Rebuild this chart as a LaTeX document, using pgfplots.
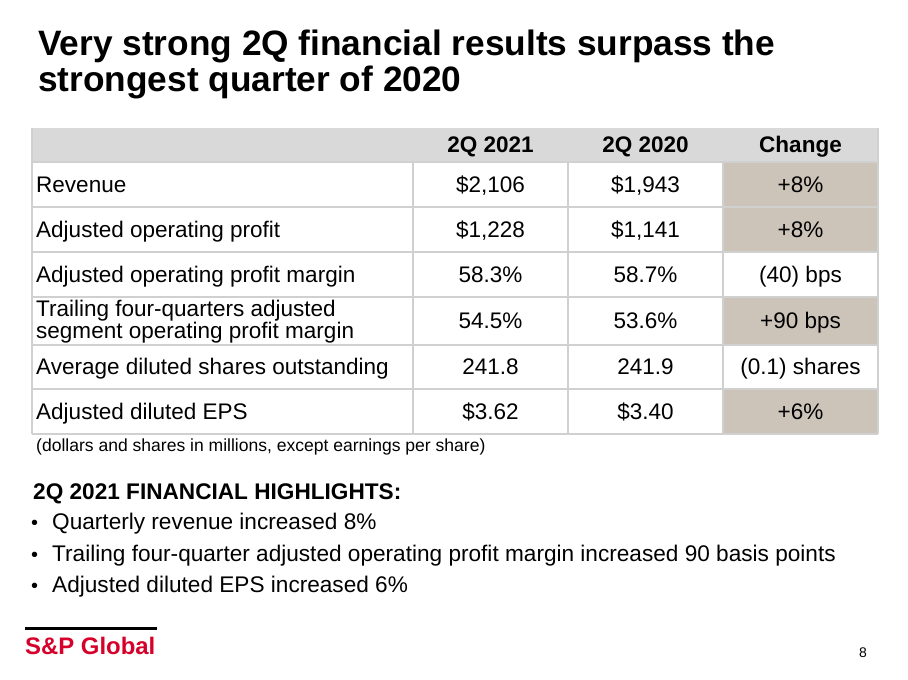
\documentclass[border=0pt]{standalone}
\usepackage{pgfplots}
\pgfplotsset{compat=1.18}
\usepackage{fontspec}
\setmainfont{Liberation Sans}
\definecolor{hdrgray}{RGB}{217,217,217}
\definecolor{beige}{RGB}{205,196,185}
\definecolor{gridgray}{RGB}{208,208,208}
\definecolor{spred}{RGB}{214,0,42}
\newcommand\tb{\fontsize{22.6}{23}\selectfont}
\newcommand\tbb{\fontsize{22.6}{23}\selectfont\bfseries}
\newcommand\hl{\fontsize{22.7}{24}\selectfont}
\begin{document}
\begin{tikzpicture}
\begin{axis}[
  scale only axis, width=908bp, height=680bp,
  xmin=0, xmax=908, ymin=0, ymax=680, y dir=reverse,
  hide axis, clip=false, enlargelimits=false]
% background
\fill[white] (axis cs:0,0) rectangle (axis cs:908,680);
% title
\node[anchor=base west, font=\fontsize{35.4}{36}\selectfont\bfseries, inner sep=0pt] at (axis cs:38,56) {Very strong 2Q financial results surpass the};
\node[anchor=base west, font=\fontsize{35.4}{36}\selectfont\bfseries, inner sep=0pt] at (axis cs:38,92) {strongest quarter of 2020};
% header fill
\fill[hdrgray] (axis cs:32,128) rectangle (axis cs:878,162);
% beige cells
\fill[beige] (axis cs:723,162) rectangle (axis cs:878,207);
\fill[beige] (axis cs:723,207) rectangle (axis cs:878,252);
\fill[beige] (axis cs:723,297) rectangle (axis cs:878,345);
\fill[beige] (axis cs:723,389) rectangle (axis cs:878,434);
% grid
\begin{scope}[draw=gridgray, line width=1.2bp]
\draw (axis cs:32,162) -- (axis cs:878,162);
\draw (axis cs:32,207) -- (axis cs:878,207);
\draw (axis cs:32,252) -- (axis cs:878,252);
\draw (axis cs:32,297) -- (axis cs:878,297);
\draw (axis cs:32,345) -- (axis cs:878,345);
\draw (axis cs:32,389) -- (axis cs:878,389);
\draw (axis cs:32,434) -- (axis cs:878,434);
\draw (axis cs:32,128) -- (axis cs:32,434);
\draw (axis cs:878,128) -- (axis cs:878,434);
\draw (axis cs:413,162) -- (axis cs:413,434);
\draw (axis cs:568,162) -- (axis cs:568,434);
\draw (axis cs:723,162) -- (axis cs:723,434);
\end{scope}
% header text
\node[anchor=base, font=\tbb, inner sep=0pt] at (axis cs:490.5,153) {2Q 2021};
\node[anchor=base, font=\tbb, inner sep=0pt] at (axis cs:645.5,153) {2Q 2020};
\node[anchor=base, font=\tbb, inner sep=0pt] at (axis cs:800.5,153) {Change};
% row labels
\node[anchor=base west, font=\tb, inner sep=0pt] at (axis cs:36,193) {Revenue};
\node[anchor=base west, font=\tb, inner sep=0pt] at (axis cs:36,237.5) {Adjusted operating profit};
\node[anchor=base west, font=\tb, inner sep=0pt] at (axis cs:36,282.5) {Adjusted operating profit margin};
\node[anchor=base west, font=\tb, inner sep=0pt] at (axis cs:36,317) {Trailing four-quarters adjusted};
\node[anchor=base west, font=\tb, inner sep=0pt] at (axis cs:36,338.5) {segment operating profit margin};
\node[anchor=base west, font=\tb, inner sep=0pt] at (axis cs:36,375) {Average diluted shares outstanding};
\node[anchor=base west, font=\tb, inner sep=0pt] at (axis cs:36,420) {Adjusted diluted EPS};
% 2Q 2021
\node[anchor=base, font=\tb, inner sep=0pt] at (axis cs:490.5,193) {\$2,106};
\node[anchor=base, font=\tb, inner sep=0pt] at (axis cs:490.5,237.5) {\$1,228};
\node[anchor=base, font=\tb, inner sep=0pt] at (axis cs:490.5,282.5) {58.3\%};
\node[anchor=base, font=\tb, inner sep=0pt] at (axis cs:490.5,329) {54.5\%};
\node[anchor=base, font=\tb, inner sep=0pt] at (axis cs:490.5,375) {241.8};
\node[anchor=base, font=\tb, inner sep=0pt] at (axis cs:490.5,420) {\$3.62};
% 2Q 2020
\node[anchor=base, font=\tb, inner sep=0pt] at (axis cs:645.5,193) {\$1,943};
\node[anchor=base, font=\tb, inner sep=0pt] at (axis cs:645.5,237.5) {\$1,141};
\node[anchor=base, font=\tb, inner sep=0pt] at (axis cs:645.5,282.5) {58.7\%};
\node[anchor=base, font=\tb, inner sep=0pt] at (axis cs:645.5,329) {53.6\%};
\node[anchor=base, font=\tb, inner sep=0pt] at (axis cs:645.5,375) {241.9};
\node[anchor=base, font=\tb, inner sep=0pt] at (axis cs:645.5,420) {\$3.40};
% Change
\node[anchor=base, font=\tb, inner sep=0pt] at (axis cs:800.5,193) {+8\%};
\node[anchor=base, font=\tb, inner sep=0pt] at (axis cs:800.5,237.5) {+8\%};
\node[anchor=base, font=\tb, inner sep=0pt] at (axis cs:800.5,282.5) {(40) bps};
\node[anchor=base, font=\tb, inner sep=0pt] at (axis cs:800.5,329) {+90 bps};
\node[anchor=base, font=\tb, inner sep=0pt] at (axis cs:800.5,375) {(0.1) shares};
\node[anchor=base, font=\tb, inner sep=0pt] at (axis cs:800.5,420) {+6\%};
% footnote
\node[anchor=base west, font=\fontsize{17.6}{18}\selectfont, inner sep=0pt] at (axis cs:36,452) {(dollars and shares in millions, except earnings per share)};
% highlights
\node[anchor=base west, font=\hl\bfseries, inner sep=0pt] at (axis cs:33,500) {2Q 2021 FINANCIAL HIGHLIGHTS:};
\node[anchor=base west, font=\fontsize{20}{22}\selectfont, inner sep=0pt] at (axis cs:31,530) {\textbullet};
\node[anchor=base west, font=\hl, inner sep=0pt] at (axis cs:52,530) {Quarterly revenue increased 8\%};
\node[anchor=base west, font=\fontsize{20}{22}\selectfont, inner sep=0pt] at (axis cs:31,561.5) {\textbullet};
\node[anchor=base west, font=\hl, inner sep=0pt] at (axis cs:52,561.5) {Trailing four-quarter adjusted operating profit margin increased 90 basis points};
\node[anchor=base west, font=\fontsize{20}{22}\selectfont, inner sep=0pt] at (axis cs:31,593) {\textbullet};
\node[anchor=base west, font=\hl, inner sep=0pt] at (axis cs:52,593) {Adjusted diluted EPS increased 6\%};
% logo
\fill[black] (axis cs:25,627.5) rectangle (axis cs:157,630.5);
\node[anchor=base west, font=\fontsize{24}{26}\selectfont\bfseries, text=spred, inner sep=0pt] at (axis cs:25,655) {S\&P Global};
% page number
\node[anchor=base, font=\fontsize{14}{16}\selectfont, inner sep=0pt] at (axis cs:863,658) {8};
\end{axis}
\end{tikzpicture}
\end{document}
